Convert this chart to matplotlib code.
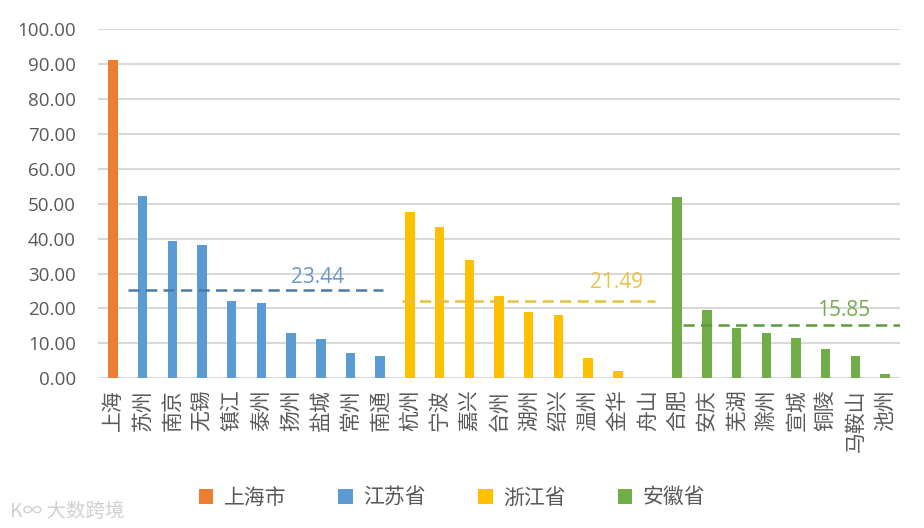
import matplotlib
matplotlib.use("Agg")
import matplotlib.pyplot as plt
from matplotlib.patches import Patch

plt.rcParams['font.family'] = ['Open Sans', 'Noto Sans CJK SC', 'DejaVu Sans']

cities = ["上海", "苏州", "南京", "无锡", "镇江", "泰州", "扬州", "盐城", "常州", "南通",
          "杭州", "宁波", "嘉兴", "台州", "湖州", "绍兴", "温州", "金华", "舟山",
          "合肥", "安庆", "芜湖", "滁州", "宣城", "铜陵", "马鞍山", "池州"]
values = [91.2, 52.2, 39.3, 38.3, 22.1, 21.5, 13.1, 11.2, 7.2, 6.4,
          47.7, 43.3, 33.9, 23.6, 18.9, 18.1, 5.7, 2.1, 0.0,
          52.0, 19.6, 14.5, 12.9, 11.5, 8.5, 6.4, 1.2]
groups = ["上海市"] * 1 + ["江苏省"] * 9 + ["浙江省"] * 9 + ["安徽省"] * 8
group_names = ["上海市", "江苏省", "浙江省", "安徽省"]
group_colors = {"上海市": "#ED7D31", "江苏省": "#5B9BD5", "浙江省": "#FFC000", "安徽省": "#70AD47"}

avg_labels = ["23.44", "21.49", "15.85"]
avg_levels = [25.2, 22.2, 15.3]
avg_spans = [(0.5, 9.1), (9.75, 18.25), (19.2, 26.5)]
avg_line_colors = ["#4A7BA8", "#E6C040", "#5E9A3A"]
avg_text_colors = ["#6A96C4", "#E8C24A", "#76AB4F"]
avg_text_pos = [(6.9, 29.0), (16.95, 27.3), (24.6, 19.4)]

yticks = [0, 10, 20, 30, 40, 50, 60, 70, 80, 90, 100]

fig = plt.figure(figsize=(9.24, 5.28), dpi=100)
ax = fig.add_axes([98 / 924, 1 - 378.3 / 528, 802 / 924, (378.3 - 29) / 528])

x = list(range(len(cities)))
colors = [group_colors[g] for g in groups]
ax.bar(x, values, width=0.32, color=colors, zorder=3)

for lab, lvl, (x0, x1), lc, tc, (tx, ty) in zip(avg_labels, avg_levels, avg_spans,
                                                  avg_line_colors, avg_text_colors, avg_text_pos):
    ax.plot([x0, x1], [lvl, lvl], color=lc, lw=1.8, dashes=(4.5, 2.5), zorder=4)
    ax.text(tx, ty, lab, color=tc, fontsize=15, ha='center', va='center',
            family=['Open Sans'], zorder=5)

ax.set_xlim(-0.5, len(cities) - 0.5)
ax.set_ylim(0, 100)
ax.set_yticks(yticks)
ax.set_yticklabels([f"{v:.2f}" for v in yticks], fontsize=13.5, color="#595959", family=['Open Sans'])
ax.set_xticks(x)
ax.set_xticklabels(cities, rotation=90, fontsize=15, color="#595959",
                   family=['Noto Sans CJK SC'], va='top', ha='center')
ax.tick_params(axis='both', length=0)
ax.tick_params(axis='y', pad=16)
ax.tick_params(axis='x', pad=8)
ax.grid(axis='y', color="#D9D9D9", lw=1.5, zorder=0)
for s in ax.spines.values():
    s.set_visible(False)

handles = [Patch(facecolor=group_colors[g], edgecolor='none') for g in group_names]
fig.legend(handles, group_names, loc='center', bbox_to_anchor=(452 / 924, 1 - 498 / 528),
           ncol=4, frameon=False, prop={'family': 'Noto Sans CJK SC', 'size': 15},
           labelcolor="#595959", handlelength=0.7, handleheight=0.75,
           handletextpad=0.5, columnspacing=2.5)

fig.text(10 / 924, 1 - 511 / 528, "K∞ 大数跨境", color="#D0D0D0", fontsize=14,
         family=['Noto Sans CJK SC', 'DejaVu Sans'], va='center', ha='left')

fig.savefig("out.png", dpi=100)
